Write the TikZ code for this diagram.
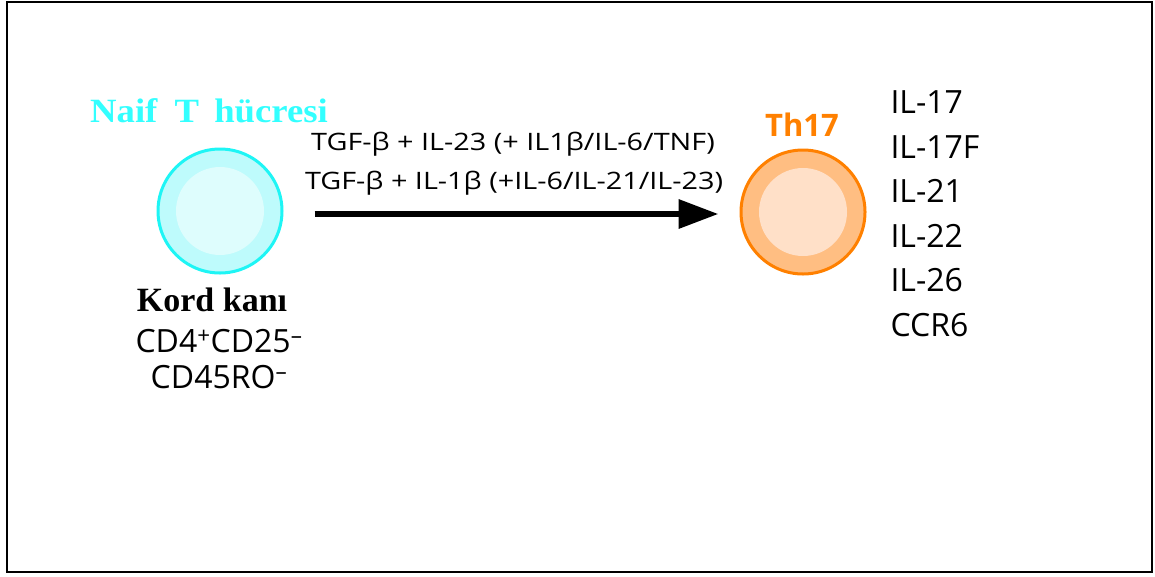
\documentclass[tikz,border=0pt]{standalone}
\usepackage{fontspec}
\setmainfont{Liberation Serif}
\setsansfont{Open Sans}
\newfontfamily\widesans[FakeStretch=1.2]{Open Sans}
\newfontfamily\wideserif[FakeStretch=1.08]{Liberation Serif}
\usetikzlibrary{arrows.meta}
\definecolor{cyanline}{RGB}{30,245,245}
\definecolor{cyanring}{RGB}{190,251,252}
\definecolor{cyaninner}{RGB}{222,253,253}
\definecolor{cyantext}{RGB}{51,255,255}
\definecolor{orline}{RGB}{255,128,0}
\definecolor{orring}{RGB}{255,190,130}
\definecolor{orinner}{RGB}{255,224,200}
\tikzset{
  cell/.style={circle, minimum size=124pt, inner sep=0pt, line width=3pt},
  serifbold/.style={font=\fontsize{34}{38}\selectfont\bfseries\wideserif},
  sanslabel/.style={font=\fontsize{32}{36}\selectfont\sffamily},
  arrowlabel/.style={font=\fontsize{24}{28}\selectfont\widesans},
  conv/.style={line width=6.5pt, -{Triangle[length=40pt,width=28pt]}},
}
\begin{document}
\begin{tikzpicture}[x=1pt,y=-1pt]
\useasboundingbox (0,0) rectangle (1155,576);
\draw[line width=2.5pt] (7,2) rectangle (1152,572);
% left cell
\node[cell, draw=cyanline, fill=cyanring] (naive) at (220,211) {};
\fill[cyaninner] (naive.center) circle (44);
% right cell
\node[cell, draw=orline, fill=orring] (th17) at (803,212) {};
\fill[orinner] (th17.center) circle (44);
% titles
\node[serifbold, text=cyantext] (naivetitle) at (209,111) {Naif\hspace{8pt} T\hspace{6pt} hücresi};
\node[font=\fontsize{31}{35}\selectfont\bfseries\sffamily, text=orline] (th17title) at (802,125) {Th17};
% arrow
\draw[conv] ([xshift=31pt,yshift=-3pt]naive.east) -- ([xshift=-21pt,yshift=-2pt]th17.west);
\node[arrowlabel] (l1) at (513,144) {TGF-β + IL-23 (+ IL1β/IL-6/TNF)};
\node[arrowlabel] (l2) at (514,183) {TGF-β + IL-1β (+IL-6/IL-21/IL-23)};
% below left
\node[font=\fontsize{34}{38}\selectfont\bfseries\rmfamily, text=black] (kord) at (212,300) {Kord kanı};
\node[sanslabel] (cd1) at (219,341) {CD4\textsuperscript{+}CD25\textsuperscript{–}};
\node[sanslabel] (cd2) at (219,377) {CD45RO\textsuperscript{–}};
% list
\node[sanslabel, anchor=west] (i1) at (887,102) {IL-17};
\node[sanslabel, anchor=west] (i2) at (887,147) {IL-17F};
\node[sanslabel, anchor=west] (i3) at (887,191) {IL-21};
\node[sanslabel, anchor=west] (i4) at (887,236) {IL-22};
\node[sanslabel, anchor=west] (i5) at (887,280) {IL-26};
\node[sanslabel, anchor=west] (i6) at (887,325) {CCR6};
\end{tikzpicture}
\end{document}
